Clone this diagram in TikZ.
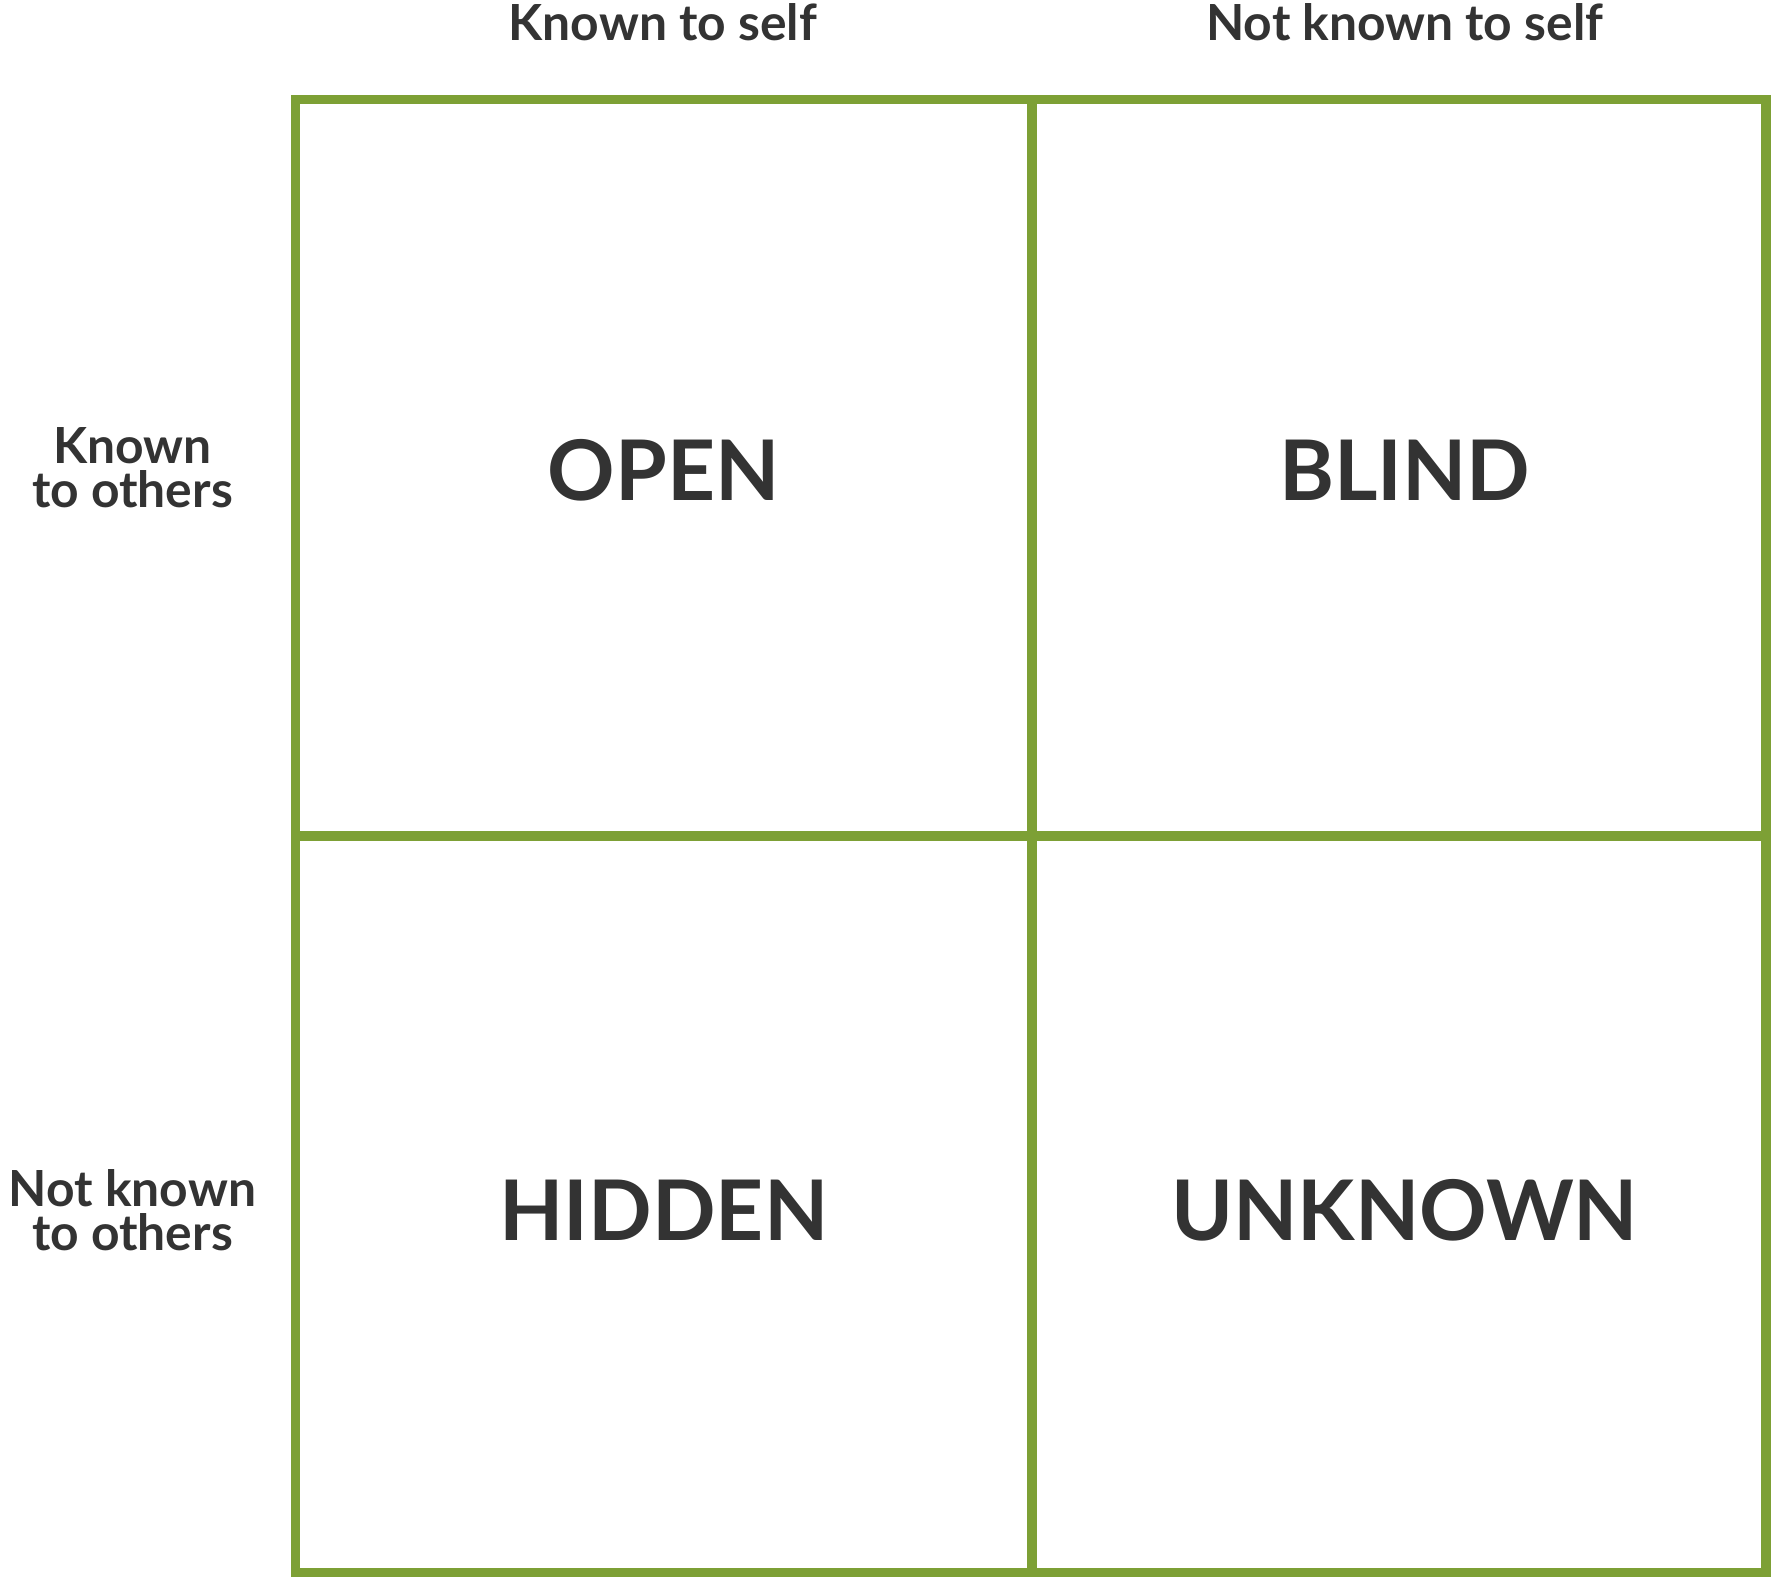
\documentclass[tikz,border=0pt]{standalone}
\usepackage{fontspec}
\setmainfont{Lato}
\usepackage{tikz}
\definecolor{grass}{HTML}{7DA035}
\definecolor{ink}{HTML}{333333}
\tikzset{head/.style={text=ink,font=\bfseries\fontsize{12.5}{14}\selectfont,align=center},
  pane/.style={text=ink,font=\bfseries\fontsize{21}{24}\selectfont}}
\begin{document}
\begin{tikzpicture}
\useasboundingbox (0,0) rectangle (15.66,-13.93);
  \draw [grass,line width=2.3pt] (2.61,-0.88) rectangle (15.59,-13.88);
  \draw [grass,line width=2.3pt] (9.11,-0.88) -- (9.11,-13.88);
  \draw [grass,line width=2.3pt] (2.61,-7.38) -- (15.59,-7.38);
\node [head] (kself) at (5.85,-0.2) {Known to self};
\node [head] (nself) at (12.4,-0.2) {Not known to self};
\node [head] (kothers) at (1.17,-4.13) {Known\\[-3pt]to others};
\node [head] (nothers) at (1.17,-10.68) {Not known\\[-3pt]to others};
\node [pane] (open) at (5.86,-4.15) {OPEN};
\node [pane] (blind) at (12.4,-4.15) {BLIND};
\node [pane] (hidden) at (5.86,-10.68) {HIDDEN};
\node [pane] (unknown) at (12.4,-10.68) {UNKNOWN};
\end{tikzpicture}
\end{document}
